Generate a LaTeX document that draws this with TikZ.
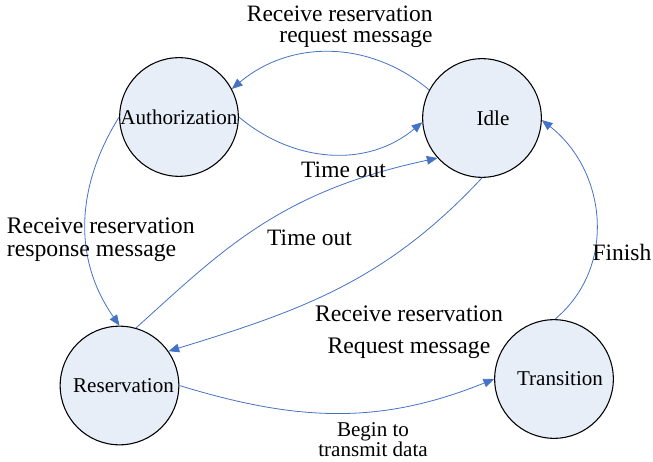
\documentclass[tikz,border=0pt]{standalone}
\usepackage{fontspec}
\setmainfont{Liberation Serif}
\usepackage{tikz}
\usetikzlibrary{arrows.meta,automata}
\definecolor{stateblue}{RGB}{232,238,248}
\definecolor{edgeblue}{RGB}{68,114,196}

\begin{document}
\begin{tikzpicture}[->,>={Triangle[length=8pt,width=6.5pt]},x=0.75pt,y=0.75pt,
                    edgeblue,line width=0.6pt]
  \tikzstyle{every state}=[fill=stateblue,draw=black,line width=0.8pt,text=black,
                           minimum size=89pt,inner sep=0pt,
                           font=\fontsize{15.8}{16}\selectfont]
  \tikzstyle{lbl}=[text=black,inner sep=0pt,font=\fontsize{17.6}{15.5}\selectfont]

  \useasboundingbox (0,0) rectangle (653,461);

  \node[state] (A) at (179,344)   {Authorization};
  \node[state] (I) at (482,343)   {\hspace*{16.5pt}Idle};
  \node[state] (R) at (119.5,75.5) {\hspace*{6pt}Reservation};
  \node[state] (T) at (554,82)    {\hspace*{9pt}Transition};

  \path (I.152) edge [out=140,in=40]                (A.28)
        (A.0)   edge [out=-40,in=220]               (I.184)
        (R.74)  edge [out=42,in=192,out looseness=0.85,in looseness=1.2] (I.222)
        (I.270) edge [out=227,in=17]                (R.35)
        (A.180) edge [out=238,in=125]               (R.90)
        (R.0)   edge [out=-17,in=202]               (T.180)
        (T.89)  edge [out=40,in=-38,looseness=1.05] (I.358);

  \node[lbl,align=right,anchor=east] (rqmsg) at (433,434) {Receive reservation\\request message};
  \node[lbl,align=left,anchor=west,font=\fontsize{17.8}{17.25}\selectfont]
        (rpmsg) at (6.5,221.5) {Receive reservation\\response message};
  \node[lbl] (tout1) at (343.5,291) {Time out};
  \node[lbl] (tout2) at (309.5,223) {Time out};
  \node[lbl] (fin)   at (622,209)   {Finish};
  \node[lbl,align=center,font=\fontsize{17.8}{24}\selectfont]
        (rqmsg2) at (409,129) {Receive reservation\\Request message};
  \node[lbl,align=center,font=\fontsize{15.8}{15}\selectfont]
        (begin) at (373,21) {Begin to\\transmit data};
\end{tikzpicture}
\end{document}
